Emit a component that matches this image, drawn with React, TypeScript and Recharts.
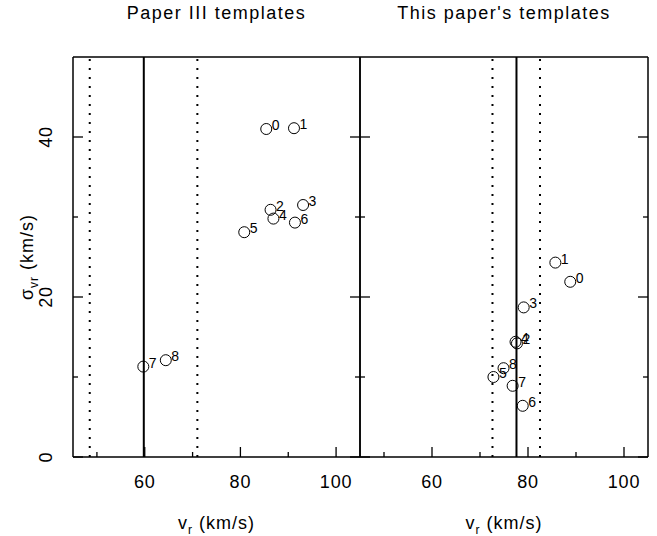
import { Label, ReferenceLine, Scatter, ScatterChart, XAxis, YAxis } from "recharts";

// template numbers, in the order they are labelled on the plot
const templateIds = ["0", "1", "2", "3", "4", "5", "6", "7", "8"];

// left panel: Paper III templates
const paperIIIVr = [85.4, 91.2, 86.3, 93.1, 86.9, 80.8, 91.4, 59.7, 64.4];
const paperIIISigma = [41.0, 41.1, 30.9, 31.5, 29.8, 28.1, 29.3, 11.3, 12.1];
const paperIIIMean = 59.8;
const paperIIIBand = [48.5, 71.0];

// right panel: this paper's templates
const thisPaperVr = [88.8, 85.7, 77.7, 79.1, 77.4, 72.8, 78.9, 76.8, 74.9];
const thisPaperSigma = [21.9, 24.3, 14.2, 18.7, 14.4, 10.0, 6.4, 8.9, 11.1];
const thisPaperMean = 77.6;
const thisPaperBand = [72.6, 82.5];

const xDomain = [45, 105];
const yDomain = [0, 50];
const xTicks = [50, 60, 70, 80, 90, 100];
const xMajor = [60, 80, 100];
const yTicks = [0, 10, 20, 30, 40];
const yMajor = [0, 20, 40];

const FONT = "'Liberation Sans', Arial, sans-serif";
const INK = "#000";

function buildPoints(vr: number[], sigma: number[]) {
  return templateIds.map((id, i) => ({ id, vr: vr[i], sigma: sigma[i] }));
}

const tickLen = (major: boolean) => (major ? 10 : 5);

function BottomTick(props: any) {
  const { x, y, payload } = props;
  const major = xMajor.includes(payload.value);
  return (
    <g>
      <line x1={x} x2={x} y1={y} y2={y - tickLen(major)} stroke={INK} strokeWidth={1.3} />
      {major && (
        <text x={x} y={y + 31} textAnchor="middle" fontSize={18} fontFamily={FONT} letterSpacing={0.8} fill={INK}>
          {payload.value}
        </text>
      )}
    </g>
  );
}

function TopTick(props: any) {
  const { x, y, payload } = props;
  const major = xMajor.includes(payload.value);
  return <line x1={x} x2={x} y1={y} y2={y + tickLen(major)} stroke={INK} strokeWidth={1.3} />;
}

function makeSideTick(side: "left" | "right", showLabel: boolean) {
  return function SideTick(props: any) {
    const { x, y, payload } = props;
    const major = yMajor.includes(payload.value);
    const dir = side === "left" ? 1 : -1;
    const lx = x - 21;
    return (
      <g>
        <line x1={x} x2={x + dir * tickLen(major)} y1={y} y2={y} stroke={INK} strokeWidth={1.3} />
        {showLabel && major && (
          <text
            x={lx}
            y={y}
            transform={`rotate(-90 ${lx} ${y})`}
            textAnchor="middle"
            fontSize={18}
            fontFamily={FONT}
            letterSpacing={0.8}
            fill={INK}
          >
            {payload.value}
          </text>
        )}
      </g>
    );
  };
}

function TemplatePoint(props: any) {
  const { cx, cy, payload } = props;
  return (
    <g>
      <circle cx={cx} cy={cy} r={5.5} fill="none" stroke={INK} strokeWidth={1} />
      <text x={cx + 5.5} y={cy + 1} fontSize={14} fontFamily={FONT} fill={INK}>
        {payload.id}
      </text>
    </g>
  );
}

function Panel({
  title,
  vr,
  sigma,
  mean,
  band,
  left,
  right,
  showYLabels,
}: {
  title: string;
  vr: number[];
  sigma: number[];
  mean: number;
  band: number[];
  left: number;
  right: number;
  showYLabels: boolean;
}) {
  const points = buildPoints(vr, sigma);
  return (
    <div style={{ position: "absolute", left: 0, top: 0 }}>
      <ScatterChart width={657} height={536} margin={{ top: 56, right: right - 1, bottom: 78, left: left - 1 }}>
        <XAxis
          type="number"
          dataKey="vr"
          domain={xDomain}
          ticks={xTicks}
          interval={0}
          height={1}
          tickSize={0}
          tickMargin={0}
          tickLine={false}
          tick={BottomTick}
          axisLine={{ stroke: INK, strokeWidth: 1.5 }}
          allowDataOverflow
        >
          <Label
            content={(p: any) => {
              const vb = p.viewBox;
              return (
                <text x={vb.x + vb.width / 2} y={529} textAnchor="middle" fontSize={18} fontFamily={FONT} letterSpacing={1} fill={INK}>
                  v<tspan dy={5} fontSize={12}>r</tspan>
                  <tspan dy={-5}> (km/s)</tspan>
                </text>
              );
            }}
          />
        </XAxis>
        <XAxis
          xAxisId="top"
          orientation="top"
          type="number"
          domain={xDomain}
          ticks={xTicks}
          interval={0}
          height={1}
          tickSize={0}
          tickMargin={0}
          tickLine={false}
          tick={TopTick}
          axisLine={{ stroke: INK, strokeWidth: 1.5 }}
          allowDataOverflow
        >
          <Label
            content={(p: any) => {
              const vb = p.viewBox;
              return (
                <text x={vb.x + vb.width / 2} y={19} textAnchor="middle" fontSize={18} fontFamily={FONT} letterSpacing={1.5} fill={INK}>
                  {title}
                </text>
              );
            }}
          />
        </XAxis>
        <YAxis
          type="number"
          dataKey="sigma"
          domain={yDomain}
          ticks={yTicks}
          interval={0}
          width={1}
          tickSize={0}
          tickMargin={0}
          tickLine={false}
          tick={makeSideTick("left", showYLabels)}
          axisLine={{ stroke: INK, strokeWidth: 1.5 }}
          allowDataOverflow
        >
          {showYLabels && (
            <Label
              content={(p: any) => {
                const vb = p.viewBox;
                const cx = 33;
                const cy = vb.y + vb.height / 2;
                return (
                  <text
                    x={cx}
                    y={cy}
                    transform={`rotate(-90 ${cx} ${cy})`}
                    textAnchor="middle"
                    fontSize={18}
                    fontFamily={FONT}
                    letterSpacing={1}
                    fill={INK}
                  >
                    σ<tspan dy={5} fontSize={12}>vr</tspan>
                    <tspan dy={-5}> (km/s)</tspan>
                  </text>
                );
              }}
            />
          )}
        </YAxis>
        <YAxis
          yAxisId="right"
          orientation="right"
          type="number"
          domain={yDomain}
          ticks={yTicks}
          interval={0}
          width={1}
          tickSize={0}
          tickMargin={0}
          tickLine={false}
          tick={makeSideTick("right", false)}
          axisLine={{ stroke: INK, strokeWidth: 1.5 }}
          allowDataOverflow
        />
        <ReferenceLine x={band[0]} stroke={INK} strokeWidth={2} strokeDasharray="2 7" />
        <ReferenceLine x={band[1]} stroke={INK} strokeWidth={2} strokeDasharray="2 7" />
        <ReferenceLine x={mean} stroke={INK} strokeWidth={2} />
        <Scatter data={points} shape={TemplatePoint} isAnimationActive={false} />
      </ScatterChart>
    </div>
  );
}

export default function App() {
  return (
    <div style={{ position: "absolute", left: 0, top: 0, width: 657, height: 536, background: "#fff" }}>
      <Panel
        title="Paper III templates"
        vr={paperIIIVr}
        sigma={paperIIISigma}
        mean={paperIIIMean}
        band={paperIIIBand}
        left={73}
        right={297}
        showYLabels
      />
      <Panel
        title="This paper's templates"
        vr={thisPaperVr}
        sigma={thisPaperSigma}
        mean={thisPaperMean}
        band={thisPaperBand}
        left={360}
        right={9}
        showYLabels={false}
      />
    </div>
  );
}
